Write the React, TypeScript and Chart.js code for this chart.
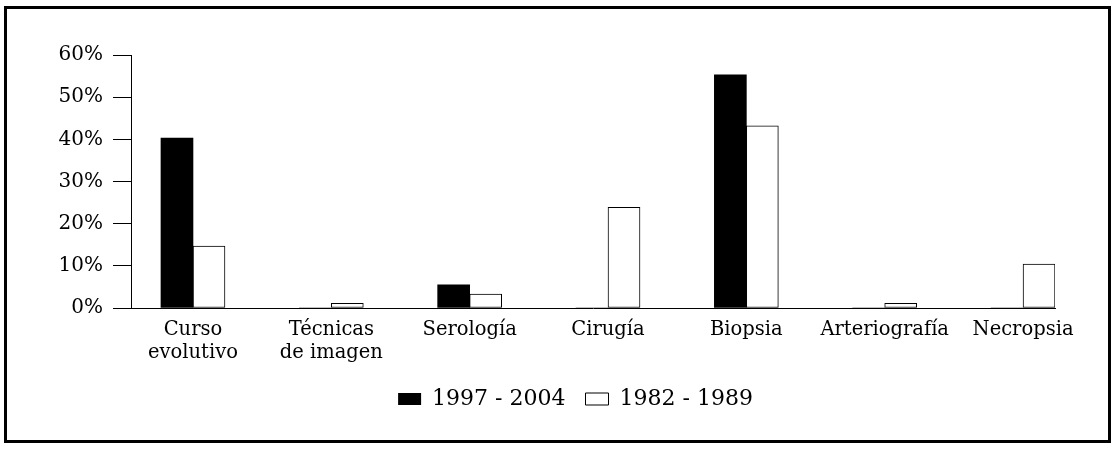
import React, { useEffect, useRef } from "react";
import { Chart, registerables } from "chart.js";

Chart.register(...registerables);

const categories: (string | string[])[] = [
  ["Curso", "evolutivo"],
  ["Técnicas", "de imagen"],
  "Serología",
  "Cirugía",
  "Biopsia",
  "Arteriografía",
  "Necropsia",
];

const seriesLabels = ["1997 - 2004", "1982 - 1989"];
const values1997_2004 = [40.3, 0, 5.5, 0, 55.3, 0, 0];
const values1982_1989 = [14.7, 1.1, 3.3, 23.9, 43.2, 1.1, 10.4];
const yTicks = [0, 10, 20, 30, 40, 50, 60];

const FONT = "'DejaVu Serif', 'Liberation Serif', serif";
const LEGEND_CENTER_X = 575.5;

const legendShift = {
  id: "legendShift",
  afterLayout(chart: any) {
    const lg = chart.legend;
    if (!lg) return;
    const d = LEGEND_CENTER_X - (lg.left + lg.right) / 2;
    lg.left += d;
    lg.right += d;
  },
};

export default function App() {
  const canvasRef = useRef<HTMLCanvasElement | null>(null);

  useEffect(() => {
    const canvas = canvasRef.current;
    if (!canvas) return;
    Chart.defaults.color = "#000";
    const chart = new Chart(canvas, {
      type: "bar",
      data: {
        datasets: [
          {
            label: seriesLabels[0],
            data: values1997_2004.map((v, i) => ({ x: i, y: v })),
            backgroundColor: "#000",
            borderColor: "#000",
            borderWidth: 0,
            barThickness: 32,
          },
          {
            label: seriesLabels[1],
            data: values1982_1989.map((v, i) => ({ x: i, y: v })),
            backgroundColor: "#fff",
            borderColor: "#000",
            borderWidth: 1,
            borderSkipped: false,
            barThickness: 32,
          },
        ],
      },
      plugins: [legendShift],
      options: {
        responsive: false,
        animation: false,
        devicePixelRatio: 1,
        layout: { padding: { left: 40, right: 61, top: 55, bottom: 32 } },
        plugins: {
          tooltip: { enabled: false },
          legend: {
            position: "bottom",
            labels: {
              boxWidth: 23,
              boxHeight: 12,
              padding: 20,
              color: "#000",
              font: { family: FONT, size: 22 },
            },
          },
        },
        scales: {
          x: {
            type: "linear",
            min: -0.448,
            max: 6.231,
            offset: false,
            grid: { display: true, drawOnChartArea: false, drawTicks: false },
            border: { display: true, color: "#000", width: 1 },
            ticks: {
              stepSize: 1,
              includeBounds: false,
              autoSkip: false,
              maxRotation: 0,
              minRotation: 0,
              padding: 10,
              color: "#000",
              font: { family: FONT, size: 19.5, lineHeight: 1.2 },
              callback: (value: any) => {
                const v = Number(value);
                return Number.isInteger(v) && categories[v] !== undefined ? categories[v] : "";
              },
            },
            afterFit: (scale: any) => {
              scale.height = 60;
            },
          },
          y: {
            min: 0,
            max: 60,
            grid: {
              drawOnChartArea: false,
              drawTicks: true,
              tickLength: 18,
              color: "#000",
              lineWidth: 1,
            },
            border: { display: true, color: "#000", width: 1 },
            afterBuildTicks: (scale: any) => {
              scale.ticks = yTicks.map((v) => ({ value: v }));
            },
            ticks: {
              padding: 10,
              color: "#000",
              font: { family: FONT, size: 20 },
              callback: (value: any) => `${value}%`,
            },
            afterFit: (scale: any) => {
              scale.width = 91;
            },
          },
        },
      },
    });
    return () => chart.destroy();
  }, []);

  return (
    <div style={{ position: "absolute", left: 0, top: 0, width: 1116, height: 452, background: "#fff" }}>
      <canvas
        ref={canvasRef}
        width={1116}
        height={452}
        style={{ position: "absolute", left: 0, top: 0, width: 1116, height: 452 }}
      />
      <div
        style={{
          position: "absolute",
          left: 4,
          top: 6,
          width: 1107,
          height: 437,
          border: "3px solid #000",
          boxSizing: "border-box",
          pointerEvents: "none",
        }}
      />
    </div>
  );
}
